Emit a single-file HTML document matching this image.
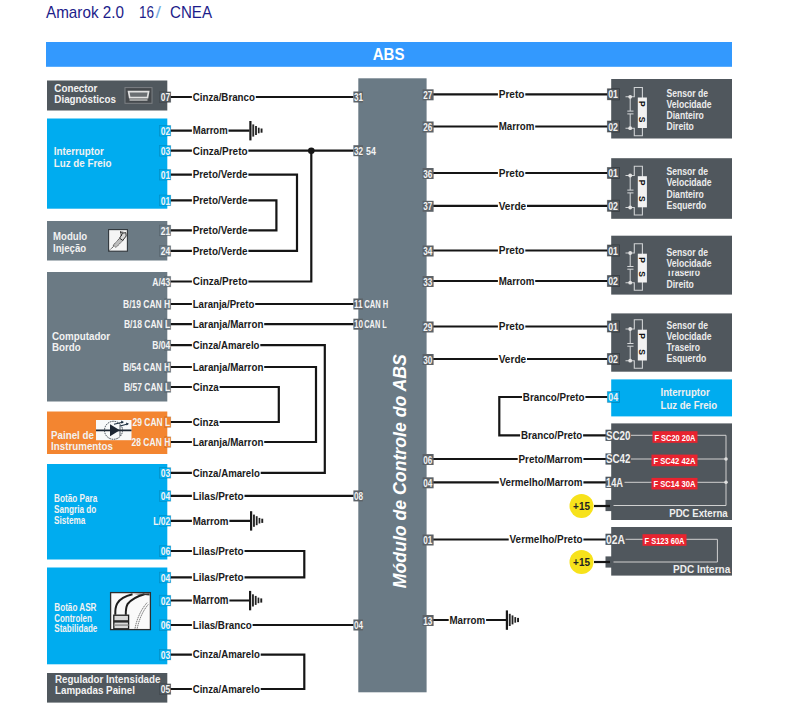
<!DOCTYPE html>
<html><head><meta charset="utf-8"><style>
html,body{margin:0;padding:0;background:#ffffff;}
body{width:808px;height:711px;overflow:hidden;}
svg{display:block;font-family:"Liberation Sans", sans-serif;}
</style></head><body>
<svg width="808" height="711" viewBox="0 0 808 711">
<text transform="translate(46.00,17.80) scale(0.9535,1)" font-size="16" font-weight="normal" fill="#1c1c8a" >Amarok 2.0</text>
<text transform="translate(139.00,17.80) scale(0.8429,1)" font-size="16" font-weight="normal" fill="#1c1c8a" >16</text>
<text transform="translate(155.50,17.80) scale(1.2373,1)" font-size="16" font-weight="normal" fill="#79aee0" >/</text>
<text transform="translate(170.00,17.80) scale(0.9448,1)" font-size="16" font-weight="normal" fill="#1c1c8a" >CNEA</text>
<rect x="46.00" y="42.00" width="686.00" height="24.80" fill="#3399fe" />
<text transform="translate(372.70,59.80) scale(0.9240,1)" font-size="16.3" font-weight="bold" fill="#ffffff" >ABS</text>
<rect x="358.30" y="78.30" width="68.30" height="614.00" fill="#6a7a85" />
<text transform="translate(405.6,588.2) rotate(-90)" font-size="19" font-weight="bold" font-style="italic" fill="#ffffff" textLength="234" lengthAdjust="spacingAndGlyphs">Módulo de Controle do ABS</text>
<rect x="47.00" y="80.50" width="120.30" height="30.00" fill="#50585e" />
<rect x="47.00" y="118.50" width="120.30" height="90.20" fill="#00acef" />
<rect x="47.00" y="221.00" width="120.30" height="39.50" fill="#6b7a84" />
<rect x="47.00" y="272.00" width="120.30" height="129.50" fill="#6b7a84" />
<rect x="47.00" y="411.50" width="120.30" height="42.50" fill="#f38530" />
<rect x="47.00" y="464.00" width="120.30" height="95.50" fill="#00acef" />
<rect x="47.00" y="567.50" width="120.30" height="96.80" fill="#00acef" />
<rect x="47.00" y="673.00" width="120.30" height="29.60" fill="#50585e" />
<text transform="translate(54.30,92.00) scale(0.8950,1)" font-size="11" font-weight="bold" fill="#f2f2f2" >Conector</text>
<text transform="translate(54.30,103.40) scale(0.8950,1)" font-size="11" font-weight="bold" fill="#f2f2f2" >Diagnósticos</text>
<text transform="translate(53.80,155.20) scale(0.8900,1)" font-size="11" font-weight="bold" fill="#f2f2f2" >Interruptor</text>
<text transform="translate(53.80,166.80) scale(0.8900,1)" font-size="11" font-weight="bold" fill="#f2f2f2" >Luz de Freio</text>
<text transform="translate(53.00,240.00) scale(0.8750,1)" font-size="11" font-weight="bold" fill="#f2f2f2" >Modulo</text>
<text transform="translate(53.00,252.30) scale(0.8750,1)" font-size="11" font-weight="bold" fill="#f2f2f2" >Injeção</text>
<text transform="translate(52.00,339.50) scale(0.8900,1)" font-size="11" font-weight="bold" fill="#f2f2f2" >Computador</text>
<text transform="translate(52.00,351.30) scale(0.8900,1)" font-size="11" font-weight="bold" fill="#f2f2f2" >Bordo</text>
<text transform="translate(51.00,439.30) scale(0.8900,1)" font-size="11" font-weight="bold" fill="#f2f2f2" >Painel de</text>
<text transform="translate(51.00,450.30) scale(0.8900,1)" font-size="11" font-weight="bold" fill="#f2f2f2" >Instrumentos</text>
<text transform="translate(54.00,502.00) scale(0.8200,1)" font-size="10" font-weight="bold" fill="#f2f2f2" >Botão Para</text>
<text transform="translate(54.00,512.90) scale(0.8200,1)" font-size="10" font-weight="bold" fill="#f2f2f2" >Sangria do</text>
<text transform="translate(54.00,523.80) scale(0.8200,1)" font-size="10" font-weight="bold" fill="#f2f2f2" >Sistema</text>
<text transform="translate(54.30,611.00) scale(0.8146,1)" font-size="10" font-weight="bold" fill="#f2f2f2" >Botão  ASR</text>
<text transform="translate(54.30,621.70) scale(0.7943,1)" font-size="10" font-weight="bold" fill="#f2f2f2" >Controlen</text>
<text transform="translate(54.30,632.40) scale(0.8061,1)" font-size="10" font-weight="bold" fill="#f2f2f2" >Stabilidade</text>
<text transform="translate(55.00,683.00) scale(0.8900,1)" font-size="11" font-weight="bold" fill="#f2f2f2" >Regulador Intensidade</text>
<text transform="translate(55.00,694.00) scale(0.8900,1)" font-size="11" font-weight="bold" fill="#f2f2f2" >Lampadas Painel</text>
<path d="M170.50 97.00 L353.50 97.00" fill="none" stroke="#151515" stroke-width="2.2" stroke-linejoin="miter" stroke-linecap="butt"/>
<path d="M170.50 130.60 L249.50 130.60" fill="none" stroke="#151515" stroke-width="2.2" stroke-linejoin="miter" stroke-linecap="butt"/>
<path d="M170.50 150.70 L353.50 150.70" fill="none" stroke="#151515" stroke-width="2.2" stroke-linejoin="miter" stroke-linecap="butt"/>
<path d="M170.50 174.60 L297.00 174.60 L297.00 250.90 L170.50 250.90" fill="none" stroke="#151515" stroke-width="2.2" stroke-linejoin="miter" stroke-linecap="butt"/>
<path d="M170.50 200.30 L276.40 200.30 L276.40 230.30 L170.50 230.30" fill="none" stroke="#151515" stroke-width="2.2" stroke-linejoin="miter" stroke-linecap="butt"/>
<path d="M170.50 281.50 L311.30 281.50 L311.30 150.70" fill="none" stroke="#151515" stroke-width="2.2" stroke-linejoin="miter" stroke-linecap="butt"/>
<circle cx="311.3" cy="150.7" r="3.3" fill="#161616"/>
<path d="M170.50 304.00 L353.50 304.00" fill="none" stroke="#151515" stroke-width="2.2" stroke-linejoin="miter" stroke-linecap="butt"/>
<path d="M170.50 324.20 L353.50 324.20" fill="none" stroke="#151515" stroke-width="2.2" stroke-linejoin="miter" stroke-linecap="butt"/>
<path d="M170.50 345.20 L324.80 345.20 L324.80 472.80 L170.50 472.80" fill="none" stroke="#151515" stroke-width="2.2" stroke-linejoin="miter" stroke-linecap="butt"/>
<path d="M170.50 367.00 L316.00 367.00 L316.00 442.00 L170.50 442.00" fill="none" stroke="#151515" stroke-width="2.2" stroke-linejoin="miter" stroke-linecap="butt"/>
<path d="M170.50 387.00 L278.80 387.00 L278.80 422.00 L170.50 422.00" fill="none" stroke="#151515" stroke-width="2.2" stroke-linejoin="miter" stroke-linecap="butt"/>
<path d="M170.50 495.90 L353.50 495.90" fill="none" stroke="#151515" stroke-width="2.2" stroke-linejoin="miter" stroke-linecap="butt"/>
<path d="M170.50 520.80 L250.00 520.80" fill="none" stroke="#151515" stroke-width="2.2" stroke-linejoin="miter" stroke-linecap="butt"/>
<path d="M170.50 551.00 L304.30 551.00 L304.30 577.40 L170.50 577.40" fill="none" stroke="#151515" stroke-width="2.2" stroke-linejoin="miter" stroke-linecap="butt"/>
<path d="M170.50 600.50 L249.00 600.50" fill="none" stroke="#151515" stroke-width="2.2" stroke-linejoin="miter" stroke-linecap="butt"/>
<path d="M170.50 625.00 L353.50 625.00" fill="none" stroke="#151515" stroke-width="2.2" stroke-linejoin="miter" stroke-linecap="butt"/>
<path d="M170.50 654.60 L304.30 654.60 L304.30 689.00 L170.50 689.00" fill="none" stroke="#151515" stroke-width="2.2" stroke-linejoin="miter" stroke-linecap="butt"/>
<rect x="249.30" y="121.00" width="2.20" height="19.40" fill="#1a1a1a" />
<rect x="252.30" y="124.40" width="1.90" height="12.20" fill="#2a2a2a" />
<rect x="255.10" y="126.00" width="1.80" height="9.00" fill="#222" />
<rect x="257.90" y="127.70" width="1.70" height="5.60" fill="#222" />
<rect x="260.60" y="128.50" width="1.90" height="4.20" fill="#1e1e1e" />
<rect x="250.00" y="511.20" width="2.20" height="19.40" fill="#1a1a1a" />
<rect x="253.00" y="514.60" width="1.90" height="12.20" fill="#2a2a2a" />
<rect x="255.80" y="516.20" width="1.80" height="9.00" fill="#222" />
<rect x="258.60" y="517.90" width="1.70" height="5.60" fill="#222" />
<rect x="261.30" y="518.70" width="1.90" height="4.20" fill="#1e1e1e" />
<rect x="249.00" y="590.90" width="2.20" height="19.40" fill="#1a1a1a" />
<rect x="252.00" y="594.30" width="1.90" height="12.20" fill="#2a2a2a" />
<rect x="254.80" y="595.90" width="1.80" height="9.00" fill="#222" />
<rect x="257.60" y="597.60" width="1.70" height="5.60" fill="#222" />
<rect x="260.30" y="598.40" width="1.90" height="4.20" fill="#1e1e1e" />
<rect x="191.90" y="92.00" width="63.90" height="10.00" fill="#ffffff" />
<text transform="translate(192.70,100.80) scale(0.8863,1)" font-size="11" font-weight="bold" fill="#1a1a1a" >Cinza/Branco</text>
<rect x="191.90" y="125.60" width="36.60" height="10.00" fill="#ffffff" />
<text transform="translate(192.70,134.40) scale(0.8676,1)" font-size="11" font-weight="bold" fill="#1a1a1a" >Marrom</text>
<rect x="191.90" y="145.70" width="56.50" height="10.00" fill="#ffffff" />
<text transform="translate(192.70,154.50) scale(0.9073,1)" font-size="11" font-weight="bold" fill="#1a1a1a" >Cinza/Preto</text>
<rect x="191.90" y="169.60" width="56.50" height="10.00" fill="#ffffff" />
<text transform="translate(192.70,178.40) scale(0.9878,1)" font-size="10" font-weight="bold" fill="#1a1a1a" >Preto/Verde</text>
<rect x="191.90" y="195.30" width="56.50" height="10.00" fill="#ffffff" />
<text transform="translate(192.70,204.10) scale(0.8980,1)" font-size="11" font-weight="bold" fill="#1a1a1a" >Preto/Verde</text>
<rect x="191.90" y="225.30" width="56.50" height="10.00" fill="#ffffff" />
<text transform="translate(192.70,234.10) scale(0.8980,1)" font-size="11" font-weight="bold" fill="#1a1a1a" >Preto/Verde</text>
<rect x="191.90" y="245.90" width="56.50" height="10.00" fill="#ffffff" />
<text transform="translate(192.70,254.70) scale(0.8980,1)" font-size="11" font-weight="bold" fill="#1a1a1a" >Preto/Verde</text>
<rect x="191.90" y="276.50" width="56.50" height="10.00" fill="#ffffff" />
<text transform="translate(192.70,285.30) scale(0.9073,1)" font-size="11" font-weight="bold" fill="#1a1a1a" >Cinza/Preto</text>
<rect x="191.90" y="299.00" width="63.30" height="10.00" fill="#ffffff" />
<text transform="translate(192.70,307.80) scale(0.8777,1)" font-size="11" font-weight="bold" fill="#1a1a1a" >Laranja/Preto</text>
<rect x="191.90" y="319.20" width="72.30" height="10.00" fill="#ffffff" />
<text transform="translate(192.70,328.00) scale(0.8897,1)" font-size="11" font-weight="bold" fill="#1a1a1a" >Laranja/Marron</text>
<rect x="191.90" y="340.20" width="68.40" height="10.00" fill="#ffffff" />
<text transform="translate(192.70,349.00) scale(0.8743,1)" font-size="11" font-weight="bold" fill="#1a1a1a" >Cinza/Amarelo</text>
<rect x="191.90" y="362.00" width="72.30" height="10.00" fill="#ffffff" />
<text transform="translate(192.70,370.80) scale(0.8897,1)" font-size="11" font-weight="bold" fill="#1a1a1a" >Laranja/Marron</text>
<rect x="191.90" y="382.00" width="27.70" height="10.00" fill="#ffffff" />
<text transform="translate(192.70,390.80) scale(0.8897,1)" font-size="11" font-weight="bold" fill="#1a1a1a" >Cinza</text>
<rect x="191.90" y="417.00" width="27.70" height="10.00" fill="#ffffff" />
<text transform="translate(192.70,425.80) scale(0.8897,1)" font-size="11" font-weight="bold" fill="#1a1a1a" >Cinza</text>
<rect x="191.90" y="437.00" width="72.30" height="10.00" fill="#ffffff" />
<text transform="translate(192.70,445.80) scale(0.8897,1)" font-size="11" font-weight="bold" fill="#1a1a1a" >Laranja/Marron</text>
<rect x="191.90" y="467.80" width="68.80" height="10.00" fill="#ffffff" />
<text transform="translate(192.70,476.60) scale(0.8795,1)" font-size="11" font-weight="bold" fill="#1a1a1a" >Cinza/Amarelo</text>
<rect x="191.90" y="490.90" width="52.60" height="10.00" fill="#ffffff" />
<text transform="translate(192.70,499.70) scale(0.9069,1)" font-size="11" font-weight="bold" fill="#1a1a1a" >Lilas/Preto</text>
<rect x="191.90" y="515.80" width="37.50" height="10.00" fill="#ffffff" />
<text transform="translate(192.70,524.60) scale(0.9789,1)" font-size="10" font-weight="bold" fill="#1a1a1a" >Marrom</text>
<rect x="191.90" y="546.00" width="52.60" height="10.00" fill="#ffffff" />
<text transform="translate(192.70,554.80) scale(0.9069,1)" font-size="11" font-weight="bold" fill="#1a1a1a" >Lilas/Preto</text>
<rect x="191.90" y="572.40" width="52.60" height="10.00" fill="#ffffff" />
<text transform="translate(192.70,581.20) scale(0.9069,1)" font-size="11" font-weight="bold" fill="#1a1a1a" >Lilas/Preto</text>
<rect x="191.90" y="595.50" width="37.50" height="10.00" fill="#ffffff" />
<text transform="translate(192.70,604.30) scale(0.8157,1)" font-size="12" font-weight="bold" fill="#1a1a1a" >Marrom</text>
<rect x="191.90" y="620.00" width="60.70" height="10.00" fill="#ffffff" />
<text transform="translate(192.70,628.80) scale(0.8952,1)" font-size="11" font-weight="bold" fill="#1a1a1a" >Lilas/Branco</text>
<rect x="191.90" y="649.60" width="68.80" height="10.00" fill="#ffffff" />
<text transform="translate(192.70,658.40) scale(0.8795,1)" font-size="11" font-weight="bold" fill="#1a1a1a" >Cinza/Amarelo</text>
<rect x="191.90" y="684.00" width="68.80" height="10.00" fill="#ffffff" />
<text transform="translate(192.70,692.80) scale(0.8795,1)" font-size="11" font-weight="bold" fill="#1a1a1a" >Cinza/Amarelo</text>
<rect x="159.50" y="91.80" width="11.30" height="10.60" fill="#50585e" stroke="rgba(0,0,0,0.15)" stroke-width="0.8"/>
<text transform="translate(160.84,101.20) scale(0.7400,1)" font-size="11.5" font-weight="bold" fill="#f4f4f4" >07</text>
<rect x="159.50" y="125.40" width="11.30" height="10.60" fill="#00acef" stroke="rgba(0,0,0,0.15)" stroke-width="0.8"/>
<text transform="translate(160.84,134.80) scale(0.7400,1)" font-size="11.5" font-weight="bold" fill="#f4f4f4" >02</text>
<rect x="159.50" y="145.50" width="11.30" height="10.60" fill="#00acef" stroke="rgba(0,0,0,0.15)" stroke-width="0.8"/>
<text transform="translate(160.84,154.90) scale(0.7400,1)" font-size="11.5" font-weight="bold" fill="#f4f4f4" >03</text>
<rect x="159.50" y="169.40" width="11.30" height="10.60" fill="#00acef" stroke="rgba(0,0,0,0.15)" stroke-width="0.8"/>
<text transform="translate(160.84,178.80) scale(0.7400,1)" font-size="11.5" font-weight="bold" fill="#f4f4f4" >01</text>
<rect x="159.50" y="195.10" width="11.30" height="10.60" fill="#00acef" stroke="rgba(0,0,0,0.15)" stroke-width="0.8"/>
<text transform="translate(160.84,204.50) scale(0.7400,1)" font-size="11.5" font-weight="bold" fill="#f4f4f4" >01</text>
<rect x="159.50" y="225.10" width="11.30" height="10.60" fill="#6b7a84" stroke="rgba(0,0,0,0.15)" stroke-width="0.8"/>
<text transform="translate(160.84,234.50) scale(0.7400,1)" font-size="11.5" font-weight="bold" fill="#f4f4f4" >21</text>
<rect x="159.50" y="245.70" width="11.30" height="10.60" fill="#6b7a84" stroke="rgba(0,0,0,0.15)" stroke-width="0.8"/>
<text transform="translate(160.84,255.10) scale(0.7400,1)" font-size="11.5" font-weight="bold" fill="#f4f4f4" >24</text>
<rect x="164.80" y="276.30" width="6.00" height="10.60" fill="#6b7a84" stroke="rgba(0,0,0,0.15)" stroke-width="0.8"/>
<text transform="translate(152.33,285.70) scale(0.7400,1)" font-size="11.5" font-weight="bold" fill="#f4f4f4" >A/43</text>
<rect x="164.80" y="298.80" width="6.00" height="10.60" fill="#6b7a84" stroke="rgba(0,0,0,0.15)" stroke-width="0.8"/>
<text transform="translate(123.01,308.20) scale(0.7400,1)" font-size="11.5" font-weight="bold" fill="#f4f4f4" >B/19 CAN H</text>
<rect x="164.80" y="319.00" width="6.00" height="10.60" fill="#6b7a84" stroke="rgba(0,0,0,0.15)" stroke-width="0.8"/>
<text transform="translate(123.96,328.40) scale(0.7400,1)" font-size="11.5" font-weight="bold" fill="#f4f4f4" >B/18 CAN L</text>
<rect x="164.80" y="340.00" width="6.00" height="10.60" fill="#6b7a84" stroke="rgba(0,0,0,0.15)" stroke-width="0.8"/>
<text transform="translate(152.33,349.40) scale(0.7400,1)" font-size="11.5" font-weight="bold" fill="#f4f4f4" >B/04</text>
<rect x="164.80" y="361.80" width="6.00" height="10.60" fill="#6b7a84" stroke="rgba(0,0,0,0.15)" stroke-width="0.8"/>
<text transform="translate(123.01,371.20) scale(0.7400,1)" font-size="11.5" font-weight="bold" fill="#f4f4f4" >B/54 CAN H</text>
<rect x="164.80" y="381.80" width="6.00" height="10.60" fill="#6b7a84" stroke="rgba(0,0,0,0.15)" stroke-width="0.8"/>
<text transform="translate(123.96,391.20) scale(0.7400,1)" font-size="11.5" font-weight="bold" fill="#f4f4f4" >B/57 CAN L</text>
<rect x="164.80" y="416.80" width="6.00" height="10.60" fill="#f38530" stroke="rgba(0,0,0,0.15)" stroke-width="0.8"/>
<text transform="translate(132.47,426.20) scale(0.7400,1)" font-size="11.5" font-weight="bold" fill="#f4f4f4" >29 CAN L</text>
<rect x="164.80" y="436.80" width="6.00" height="10.60" fill="#f38530" stroke="rgba(0,0,0,0.15)" stroke-width="0.8"/>
<text transform="translate(131.52,446.20) scale(0.7400,1)" font-size="11.5" font-weight="bold" fill="#f4f4f4" >28 CAN H</text>
<rect x="159.50" y="467.60" width="11.30" height="10.60" fill="#00acef" stroke="rgba(0,0,0,0.15)" stroke-width="0.8"/>
<text transform="translate(160.84,477.00) scale(0.7400,1)" font-size="11.5" font-weight="bold" fill="#f4f4f4" >03</text>
<rect x="159.50" y="490.70" width="11.30" height="10.60" fill="#00acef" stroke="rgba(0,0,0,0.15)" stroke-width="0.8"/>
<text transform="translate(160.84,500.10) scale(0.7400,1)" font-size="11.5" font-weight="bold" fill="#f4f4f4" >04</text>
<rect x="159.50" y="515.60" width="11.30" height="10.60" fill="#00acef" stroke="rgba(0,0,0,0.15)" stroke-width="0.8"/>
<text transform="translate(153.27,525.00) scale(0.7400,1)" font-size="11.5" font-weight="bold" fill="#f4f4f4" >L/02</text>
<rect x="159.50" y="545.80" width="11.30" height="10.60" fill="#00acef" stroke="rgba(0,0,0,0.15)" stroke-width="0.8"/>
<text transform="translate(160.84,555.20) scale(0.7400,1)" font-size="11.5" font-weight="bold" fill="#f4f4f4" >06</text>
<rect x="159.50" y="572.20" width="11.30" height="10.60" fill="#00acef" stroke="rgba(0,0,0,0.15)" stroke-width="0.8"/>
<text transform="translate(160.84,581.60) scale(0.7400,1)" font-size="11.5" font-weight="bold" fill="#f4f4f4" >04</text>
<rect x="159.50" y="595.30" width="11.30" height="10.60" fill="#00acef" stroke="rgba(0,0,0,0.15)" stroke-width="0.8"/>
<text transform="translate(160.84,604.70) scale(0.7400,1)" font-size="11.5" font-weight="bold" fill="#f4f4f4" >02</text>
<rect x="159.50" y="619.80" width="11.30" height="10.60" fill="#00acef" stroke="rgba(0,0,0,0.15)" stroke-width="0.8"/>
<text transform="translate(160.84,629.20) scale(0.7400,1)" font-size="11.5" font-weight="bold" fill="#f4f4f4" >06</text>
<rect x="159.50" y="649.40" width="11.30" height="10.60" fill="#00acef" stroke="rgba(0,0,0,0.15)" stroke-width="0.8"/>
<text transform="translate(160.84,658.80) scale(0.7400,1)" font-size="11.5" font-weight="bold" fill="#f4f4f4" >03</text>
<rect x="159.50" y="683.80" width="11.30" height="10.60" fill="#50585e" stroke="rgba(0,0,0,0.15)" stroke-width="0.8"/>
<text transform="translate(160.84,693.20) scale(0.7400,1)" font-size="11.5" font-weight="bold" fill="#f4f4f4" >05</text>
<rect x="353.40" y="91.50" width="9.50" height="11.00" fill="#5d6368" />
<text transform="translate(353.90,101.00) scale(0.7400,1)" font-size="11" font-weight="bold" fill="#f4f4f4" >31</text>
<rect x="353.40" y="145.20" width="9.50" height="11.00" fill="#5d6368" />
<text transform="translate(353.90,154.70) scale(0.7400,1)" font-size="11" font-weight="bold" fill="#f4f4f4" >32</text>
<rect x="353.40" y="298.50" width="9.50" height="11.00" fill="#5d6368" />
<text transform="translate(353.90,308.00) scale(0.7400,1)" font-size="11" font-weight="bold" fill="#f4f4f4" >11</text>
<rect x="353.40" y="318.70" width="9.50" height="11.00" fill="#5d6368" />
<text transform="translate(353.90,328.20) scale(0.7400,1)" font-size="11" font-weight="bold" fill="#f4f4f4" >10</text>
<rect x="353.40" y="490.40" width="9.50" height="11.00" fill="#5d6368" />
<text transform="translate(353.90,499.90) scale(0.7400,1)" font-size="11" font-weight="bold" fill="#f4f4f4" >08</text>
<rect x="353.40" y="619.50" width="9.50" height="11.00" fill="#5d6368" />
<text transform="translate(353.90,629.00) scale(0.7400,1)" font-size="11" font-weight="bold" fill="#f4f4f4" >04</text>
<text transform="translate(366.00,154.70) scale(0.8000,1)" font-size="11" font-weight="bold" fill="#f4f4f4" >54</text>
<text transform="translate(364.30,307.80) scale(0.7579,1)" font-size="10" font-weight="bold" fill="#f4f4f4" >CAN H</text>
<text transform="translate(364.30,328.00) scale(0.7365,1)" font-size="10" font-weight="bold" fill="#f4f4f4" >CAN L</text>
<path d="M432.80 94.30 L607.30 94.30" fill="none" stroke="#151515" stroke-width="2.2" stroke-linejoin="miter" stroke-linecap="butt"/>
<path d="M432.80 126.50 L607.30 126.50" fill="none" stroke="#151515" stroke-width="2.2" stroke-linejoin="miter" stroke-linecap="butt"/>
<path d="M432.80 173.00 L607.30 173.00" fill="none" stroke="#151515" stroke-width="2.2" stroke-linejoin="miter" stroke-linecap="butt"/>
<path d="M432.80 205.80 L607.30 205.80" fill="none" stroke="#151515" stroke-width="2.2" stroke-linejoin="miter" stroke-linecap="butt"/>
<path d="M432.80 250.50 L607.30 250.50" fill="none" stroke="#151515" stroke-width="2.2" stroke-linejoin="miter" stroke-linecap="butt"/>
<path d="M432.80 281.00 L607.30 281.00" fill="none" stroke="#151515" stroke-width="2.2" stroke-linejoin="miter" stroke-linecap="butt"/>
<path d="M432.80 326.50 L607.30 326.50" fill="none" stroke="#151515" stroke-width="2.2" stroke-linejoin="miter" stroke-linecap="butt"/>
<path d="M432.80 359.00 L607.30 359.00" fill="none" stroke="#151515" stroke-width="2.2" stroke-linejoin="miter" stroke-linecap="butt"/>
<path d="M432.80 459.00 L606.00 459.00" fill="none" stroke="#151515" stroke-width="2.2" stroke-linejoin="miter" stroke-linecap="butt"/>
<path d="M432.80 482.30 L606.00 482.30" fill="none" stroke="#151515" stroke-width="2.2" stroke-linejoin="miter" stroke-linecap="butt"/>
<path d="M432.80 539.50 L606.00 539.50" fill="none" stroke="#151515" stroke-width="2.2" stroke-linejoin="miter" stroke-linecap="butt"/>
<path d="M607.30 397.00 L499.30 397.00 L499.30 435.30 L606.00 435.30" fill="none" stroke="#151515" stroke-width="2.2" stroke-linejoin="miter" stroke-linecap="butt"/>
<path d="M432.80 620.00 L506.00 620.00" fill="none" stroke="#151515" stroke-width="2.2" stroke-linejoin="miter" stroke-linecap="butt"/>
<rect x="505.80" y="610.40" width="2.20" height="19.40" fill="#1a1a1a" />
<rect x="508.80" y="613.80" width="1.90" height="12.20" fill="#2a2a2a" />
<rect x="511.60" y="615.40" width="1.80" height="9.00" fill="#222" />
<rect x="514.40" y="617.10" width="1.70" height="5.60" fill="#222" />
<rect x="517.10" y="617.90" width="1.90" height="4.20" fill="#1e1e1e" />
<rect x="497.90" y="89.30" width="27.40" height="10.00" fill="#ffffff" />
<text transform="translate(498.70,98.10) scale(0.9176,1)" font-size="11" font-weight="bold" fill="#1a1a1a" >Preto</text>
<rect x="497.90" y="121.50" width="37.30" height="10.00" fill="#ffffff" />
<text transform="translate(498.70,130.30) scale(0.8849,1)" font-size="11" font-weight="bold" fill="#1a1a1a" >Marrom</text>
<rect x="497.90" y="168.00" width="27.40" height="10.00" fill="#ffffff" />
<text transform="translate(498.70,176.80) scale(0.9176,1)" font-size="11" font-weight="bold" fill="#1a1a1a" >Preto</text>
<rect x="497.90" y="200.80" width="29.10" height="10.00" fill="#ffffff" />
<text transform="translate(498.70,209.60) scale(0.9177,1)" font-size="11" font-weight="bold" fill="#1a1a1a" >Verde</text>
<rect x="497.90" y="245.50" width="27.40" height="10.00" fill="#ffffff" />
<text transform="translate(498.70,254.30) scale(0.9176,1)" font-size="11" font-weight="bold" fill="#1a1a1a" >Preto</text>
<rect x="497.90" y="276.00" width="37.30" height="10.00" fill="#ffffff" />
<text transform="translate(498.70,284.80) scale(0.8849,1)" font-size="11" font-weight="bold" fill="#1a1a1a" >Marrom</text>
<rect x="497.90" y="321.50" width="27.40" height="10.00" fill="#ffffff" />
<text transform="translate(498.70,330.30) scale(0.9176,1)" font-size="11" font-weight="bold" fill="#1a1a1a" >Preto</text>
<rect x="497.90" y="354.00" width="29.10" height="10.00" fill="#ffffff" />
<text transform="translate(498.70,362.80) scale(0.9177,1)" font-size="11" font-weight="bold" fill="#1a1a1a" >Verde</text>
<rect x="522.00" y="392.00" width="63.40" height="10.00" fill="#ffffff" />
<text transform="translate(522.80,400.80) scale(0.8947,1)" font-size="11" font-weight="bold" fill="#1a1a1a" >Branco/Preto</text>
<rect x="520.10" y="430.30" width="63.00" height="10.00" fill="#ffffff" />
<text transform="translate(520.90,439.10) scale(0.8890,1)" font-size="11" font-weight="bold" fill="#1a1a1a" >Branco/Preto</text>
<rect x="517.70" y="454.00" width="65.70" height="10.00" fill="#ffffff" />
<text transform="translate(518.50,462.80) scale(0.8963,1)" font-size="11" font-weight="bold" fill="#1a1a1a" >Preto/Marrom</text>
<rect x="498.80" y="477.30" width="84.60" height="10.00" fill="#ffffff" />
<text transform="translate(499.60,486.10) scale(0.8933,1)" font-size="11" font-weight="bold" fill="#1a1a1a" >Vermelho/Marrom</text>
<rect x="508.70" y="534.50" width="74.70" height="10.00" fill="#ffffff" />
<text transform="translate(509.50,543.30) scale(0.9059,1)" font-size="11" font-weight="bold" fill="#1a1a1a" >Vermelho/Preto</text>
<rect x="448.70" y="615.50" width="37.40" height="10.00" fill="#ffffff" />
<text transform="translate(449.50,624.30) scale(0.8874,1)" font-size="11" font-weight="bold" fill="#1a1a1a" >Marrom</text>
<rect x="422.60" y="89.30" width="11.00" height="11.00" fill="#5d6368" />
<text transform="translate(423.20,98.80) scale(0.7400,1)" font-size="11" font-weight="bold" fill="#f4f4f4" >27</text>
<rect x="422.60" y="121.50" width="11.00" height="11.00" fill="#5d6368" />
<text transform="translate(423.20,131.00) scale(0.7400,1)" font-size="11" font-weight="bold" fill="#f4f4f4" >26</text>
<rect x="422.60" y="168.00" width="11.00" height="11.00" fill="#5d6368" />
<text transform="translate(423.20,177.50) scale(0.7400,1)" font-size="11" font-weight="bold" fill="#f4f4f4" >36</text>
<rect x="422.60" y="200.80" width="11.00" height="11.00" fill="#5d6368" />
<text transform="translate(423.20,210.30) scale(0.7400,1)" font-size="11" font-weight="bold" fill="#f4f4f4" >37</text>
<rect x="422.60" y="245.50" width="11.00" height="11.00" fill="#5d6368" />
<text transform="translate(423.20,255.00) scale(0.7400,1)" font-size="11" font-weight="bold" fill="#f4f4f4" >34</text>
<rect x="422.60" y="276.00" width="11.00" height="11.00" fill="#5d6368" />
<text transform="translate(423.20,285.50) scale(0.7400,1)" font-size="11" font-weight="bold" fill="#f4f4f4" >33</text>
<rect x="422.60" y="321.50" width="11.00" height="11.00" fill="#5d6368" />
<text transform="translate(423.20,331.00) scale(0.7400,1)" font-size="11" font-weight="bold" fill="#f4f4f4" >29</text>
<rect x="422.60" y="354.00" width="11.00" height="11.00" fill="#5d6368" />
<text transform="translate(423.20,363.50) scale(0.7400,1)" font-size="11" font-weight="bold" fill="#f4f4f4" >30</text>
<rect x="422.60" y="454.00" width="11.00" height="11.00" fill="#5d6368" />
<text transform="translate(423.20,463.50) scale(0.7400,1)" font-size="11" font-weight="bold" fill="#f4f4f4" >06</text>
<rect x="422.60" y="477.30" width="11.00" height="11.00" fill="#5d6368" />
<text transform="translate(423.20,486.80) scale(0.7400,1)" font-size="11" font-weight="bold" fill="#f4f4f4" >04</text>
<rect x="422.60" y="534.50" width="11.00" height="11.00" fill="#5d6368" />
<text transform="translate(423.20,544.00) scale(0.7400,1)" font-size="11" font-weight="bold" fill="#f4f4f4" >01</text>
<rect x="422.60" y="615.00" width="11.00" height="11.00" fill="#5d6368" />
<text transform="translate(423.20,624.50) scale(0.7400,1)" font-size="11" font-weight="bold" fill="#f4f4f4" >13</text>
<rect x="611.20" y="79.00" width="120.80" height="59.50" fill="#50575d" />
<rect x="607.30" y="88.70" width="12.20" height="11.20" fill="#50575d" stroke="rgba(0,0,0,0.3)" stroke-width="0.8"/>
<text transform="translate(608.20,98.30) scale(0.8000,1)" font-size="11" font-weight="bold" fill="#f0f0f0" >01</text>
<rect x="607.30" y="120.90" width="12.20" height="11.20" fill="#50575d" stroke="rgba(0,0,0,0.3)" stroke-width="0.8"/>
<text transform="translate(608.20,130.50) scale(0.8000,1)" font-size="11" font-weight="bold" fill="#f0f0f0" >02</text>
<path d="M625.5 96.8 H634.3 V87.5 H642.4 V135.7 H634.3 V128.2 H625.5" fill="none" stroke="#cfd2d4" stroke-width="1.1"/>
<path d="M630.2 96.8 V111.1 M630.2 113.9 V128.2 M627.3 111.1 H633.5 M627.3 113.9 H633.5" fill="none" stroke="#d6d8da" stroke-width="1"/>
<circle cx="630.2" cy="96.8" r="1.9" fill="#e4e4e4"/><circle cx="630.2" cy="128.2" r="1.9" fill="#e4e4e4"/>
<rect x="637.80" y="97.50" width="9.10" height="30.50" fill="#f2f2f2" />
<text transform="translate(638.6,101.1) rotate(90)" font-size="8.5" font-weight="bold" fill="#111">P</text>
<text transform="translate(638.6,116.7) rotate(90)" font-size="8.5" font-weight="bold" fill="#111">S</text>
<text transform="translate(666.50,96.90) scale(0.8200,1)" font-size="10.5" font-weight="bold" fill="#ececec" >Sensor de</text>
<text transform="translate(666.50,108.10) scale(0.8200,1)" font-size="10.5" font-weight="bold" fill="#ececec" >Velocidade</text>
<text transform="translate(666.50,119.30) scale(0.8200,1)" font-size="10.5" font-weight="bold" fill="#ececec" >Dianteiro</text>
<text transform="translate(666.50,130.40) scale(0.8200,1)" font-size="10.5" font-weight="bold" fill="#ececec" >Direito</text>
<rect x="611.20" y="158.20" width="120.80" height="60.60" fill="#50575d" />
<rect x="607.30" y="167.40" width="12.20" height="11.20" fill="#50575d" stroke="rgba(0,0,0,0.3)" stroke-width="0.8"/>
<text transform="translate(608.20,177.00) scale(0.8000,1)" font-size="11" font-weight="bold" fill="#f0f0f0" >01</text>
<rect x="607.30" y="200.20" width="12.20" height="11.20" fill="#50575d" stroke="rgba(0,0,0,0.3)" stroke-width="0.8"/>
<text transform="translate(608.20,209.80) scale(0.8000,1)" font-size="11" font-weight="bold" fill="#f0f0f0" >02</text>
<path d="M625.5 175.5 H634.3 V166.2 H642.4 V215.0 H634.3 V207.5 H625.5" fill="none" stroke="#cfd2d4" stroke-width="1.1"/>
<path d="M630.2 175.5 V190.1 M630.2 192.9 V207.5 M627.3 190.1 H633.5 M627.3 192.9 H633.5" fill="none" stroke="#d6d8da" stroke-width="1"/>
<circle cx="630.2" cy="175.5" r="1.9" fill="#e4e4e4"/><circle cx="630.2" cy="207.5" r="1.9" fill="#e4e4e4"/>
<rect x="637.80" y="176.20" width="9.10" height="31.10" fill="#f2f2f2" />
<text transform="translate(638.6,179.8) rotate(90)" font-size="8.5" font-weight="bold" fill="#111">P</text>
<text transform="translate(638.6,196.0) rotate(90)" font-size="8.5" font-weight="bold" fill="#111">S</text>
<text transform="translate(666.50,175.00) scale(0.8200,1)" font-size="10.5" font-weight="bold" fill="#ececec" >Sensor de</text>
<text transform="translate(666.50,186.40) scale(0.8200,1)" font-size="10.5" font-weight="bold" fill="#ececec" >Velocidade</text>
<text transform="translate(666.50,197.80) scale(0.8200,1)" font-size="10.5" font-weight="bold" fill="#ececec" >Dianteiro</text>
<text transform="translate(666.50,209.20) scale(0.8200,1)" font-size="10.5" font-weight="bold" fill="#ececec" >Esquerdo</text>
<rect x="611.20" y="235.70" width="120.80" height="58.90" fill="#50575d" />
<rect x="607.30" y="244.90" width="12.20" height="11.20" fill="#50575d" stroke="rgba(0,0,0,0.3)" stroke-width="0.8"/>
<text transform="translate(608.20,254.50) scale(0.8000,1)" font-size="11" font-weight="bold" fill="#f0f0f0" >01</text>
<rect x="607.30" y="275.40" width="12.20" height="11.20" fill="#50575d" stroke="rgba(0,0,0,0.3)" stroke-width="0.8"/>
<text transform="translate(608.20,285.00) scale(0.8000,1)" font-size="11" font-weight="bold" fill="#f0f0f0" >02</text>
<path d="M625.5 253.0 H634.3 V243.7 H642.4 V290.2 H634.3 V282.7 H625.5" fill="none" stroke="#cfd2d4" stroke-width="1.1"/>
<path d="M630.2 253.0 V266.5 M630.2 269.2 V282.7 M627.3 266.5 H633.5 M627.3 269.2 H633.5" fill="none" stroke="#d6d8da" stroke-width="1"/>
<circle cx="630.2" cy="253.0" r="1.9" fill="#e4e4e4"/><circle cx="630.2" cy="282.7" r="1.9" fill="#e4e4e4"/>
<rect x="637.80" y="253.70" width="9.10" height="28.80" fill="#f2f2f2" />
<text transform="translate(638.6,257.3) rotate(90)" font-size="8.5" font-weight="bold" fill="#111">P</text>
<text transform="translate(638.6,271.2) rotate(90)" font-size="8.5" font-weight="bold" fill="#111">S</text>
<text transform="translate(666.50,255.80) scale(0.8200,1)" font-size="10.5" font-weight="bold" fill="#ececec" >Sensor de</text>
<text transform="translate(666.50,266.70) scale(0.8200,1)" font-size="10.5" font-weight="bold" fill="#ececec" >Velocidade</text>
<text transform="translate(666.50,275.80) scale(0.8200,1)" font-size="10.5" font-weight="bold" fill="#ececec" >Traseiro</text>
<rect x="664.00" y="266.90" width="50.00" height="3.90" fill="#50575d" />
<text transform="translate(666.50,287.50) scale(0.8200,1)" font-size="10.5" font-weight="bold" fill="#ececec" >Direito</text>
<rect x="611.20" y="313.40" width="120.80" height="58.30" fill="#50575d" />
<rect x="607.30" y="320.90" width="12.20" height="11.20" fill="#50575d" stroke="rgba(0,0,0,0.3)" stroke-width="0.8"/>
<text transform="translate(608.20,330.50) scale(0.8000,1)" font-size="11" font-weight="bold" fill="#f0f0f0" >01</text>
<rect x="607.30" y="353.40" width="12.20" height="11.20" fill="#50575d" stroke="rgba(0,0,0,0.3)" stroke-width="0.8"/>
<text transform="translate(608.20,363.00) scale(0.8000,1)" font-size="11" font-weight="bold" fill="#f0f0f0" >02</text>
<path d="M625.5 329.0 H634.3 V319.7 H642.4 V368.2 H634.3 V360.7 H625.5" fill="none" stroke="#cfd2d4" stroke-width="1.1"/>
<path d="M630.2 329.0 V343.5 M630.2 346.2 V360.7 M627.3 343.5 H633.5 M627.3 346.2 H633.5" fill="none" stroke="#d6d8da" stroke-width="1"/>
<circle cx="630.2" cy="329.0" r="1.9" fill="#e4e4e4"/><circle cx="630.2" cy="360.7" r="1.9" fill="#e4e4e4"/>
<rect x="637.80" y="329.70" width="9.10" height="30.80" fill="#f2f2f2" />
<text transform="translate(638.6,333.3) rotate(90)" font-size="8.5" font-weight="bold" fill="#111">P</text>
<text transform="translate(638.6,349.2) rotate(90)" font-size="8.5" font-weight="bold" fill="#111">S</text>
<text transform="translate(666.50,328.80) scale(0.8200,1)" font-size="10.5" font-weight="bold" fill="#ececec" >Sensor de</text>
<text transform="translate(666.50,339.90) scale(0.8200,1)" font-size="10.5" font-weight="bold" fill="#ececec" >Velocidade</text>
<text transform="translate(666.50,351.00) scale(0.8200,1)" font-size="10.5" font-weight="bold" fill="#ececec" >Traseiro</text>
<text transform="translate(666.50,362.20) scale(0.8200,1)" font-size="10.5" font-weight="bold" fill="#ececec" >Esquerdo</text>
<rect x="611.20" y="379.40" width="120.80" height="37.00" fill="#00acef" />
<text transform="translate(660.50,396.00) scale(0.8750,1)" font-size="11" font-weight="bold" fill="#f0f0f0" >Interruptor</text>
<text transform="translate(660.50,408.50) scale(0.8750,1)" font-size="11" font-weight="bold" fill="#f0f0f0" >Luz de Freio</text>
<rect x="607.30" y="391.50" width="12.20" height="11.00" fill="#00acef" stroke="rgba(0,0,0,0.2)" stroke-width="0.8"/>
<text transform="translate(608.30,401.20) scale(0.7600,1)" font-size="11.5" font-weight="bold" fill="#f0f0f0" >04</text>
<rect x="611.20" y="423.40" width="120.80" height="96.60" fill="#50575d" />
<rect x="611.20" y="527.00" width="120.80" height="48.60" fill="#50575d" />
<rect x="605.50" y="429.70" width="8.00" height="11.20" fill="#50575d" />
<text transform="translate(606.00,439.70) scale(0.7836,1)" font-size="12.5" font-weight="bold" fill="#f0f0f0" >SC20</text>
<rect x="605.50" y="453.40" width="8.00" height="11.20" fill="#50575d" />
<text transform="translate(606.00,463.40) scale(0.7836,1)" font-size="12.5" font-weight="bold" fill="#f0f0f0" >SC42</text>
<rect x="605.50" y="476.70" width="8.00" height="11.20" fill="#50575d" />
<text transform="translate(606.00,486.70) scale(0.7414,1)" font-size="12.5" font-weight="bold" fill="#f0f0f0" >14A</text>
<rect x="605.50" y="499.90" width="8.00" height="11.20" fill="#50575d" />
<rect x="605.50" y="533.70" width="8.00" height="11.20" fill="#50575d" />
<text transform="translate(606.00,543.70) scale(0.8286,1)" font-size="12.5" font-weight="bold" fill="#f0f0f0" >02A</text>
<rect x="605.50" y="556.40" width="8.00" height="11.20" fill="#50575d" />
<path d="M631 435.3 H726 V505.5 H613.5 M631 459 H726 M624.5 482.3 H726" fill="none" stroke="#d0d0d0" stroke-width="1"/>
<circle cx="726" cy="459" r="1.8" fill="#e0e0e0"/><circle cx="726" cy="482.3" r="1.8" fill="#e0e0e0"/>
<path d="M625.5 539.3 H717.4 V562 H613.5" fill="none" stroke="#d0d0d0" stroke-width="1"/>
<rect x="652.50" y="431.20" width="45.00" height="11.60" fill="#e8232f" />
<text transform="translate(654.50,440.50) scale(0.7844,1)" font-size="9.5" font-weight="bold" fill="#ffffff" >F SC20 20A</text>
<rect x="651.50" y="454.60" width="46.00" height="11.60" fill="#e8232f" />
<text transform="translate(653.50,463.90) scale(0.8035,1)" font-size="9.5" font-weight="bold" fill="#ffffff" >F SC42 42A</text>
<rect x="651.50" y="477.90" width="46.00" height="11.60" fill="#e8232f" />
<text transform="translate(653.50,487.20) scale(0.8035,1)" font-size="9.5" font-weight="bold" fill="#ffffff" >F SC14 30A</text>
<rect x="642.50" y="534.20" width="44.00" height="11.60" fill="#e8232f" />
<text transform="translate(644.50,543.50) scale(0.7891,1)" font-size="9.5" font-weight="bold" fill="#ffffff" >F S123 60A</text>
<text transform="translate(669.20,517.30) scale(0.8779,1)" font-size="11" font-weight="bold" fill="#eeeeee" >PDC Externa</text>
<text transform="translate(673.00,573.00) scale(0.9102,1)" font-size="11" font-weight="bold" fill="#eeeeee" >PDC Interna</text>
<path d="M594.00 506.00 L610.00 506.00" fill="none" stroke="#151515" stroke-width="2.2" stroke-linejoin="miter" stroke-linecap="butt"/>
<circle cx="581.5" cy="506" r="12" fill="#f7e21b"/>
<text transform="translate(573.10,510.00) scale(0.9000,1)" font-size="11" font-weight="bold" fill="#222" >+15</text>
<path d="M594.00 562.00 L610.00 562.00" fill="none" stroke="#151515" stroke-width="2.2" stroke-linejoin="miter" stroke-linecap="butt"/>
<circle cx="581.5" cy="562" r="12" fill="#f7e21b"/>
<text transform="translate(573.10,566.00) scale(0.9000,1)" font-size="11" font-weight="bold" fill="#222" >+15</text>
<rect x="125" y="87.6" width="27" height="15.7" fill="#45494d" stroke="#7d8185" stroke-width="1"/>
<path d="M127.6 90.8 H149.6 L148.2 98.6 H129 Z" fill="#e2e2e2"/><path d="M129.6 92.6 H147.6 L146.8 96.8 H130.4 Z" fill="#6a6e72"/><rect x="129.5" y="99.4" width="18" height="1.2" fill="#d6d6d6"/>
<rect x="108.6" y="229.6" width="18.8" height="21.6" fill="#f5f5f5" stroke="#30363b" stroke-width="1.1"/>
<path d="M109.5 250.2 L114 246" stroke="#222" stroke-width="1" stroke-dasharray="1 0.8"/>
<path d="M113.2 245.2 L120.2 237.6 L123.2 240.2 L116 247.4 Z" fill="#bdbdbd" stroke="#333" stroke-width="0.8" stroke-dasharray="1.2 0.6"/>
<path d="M119.6 238.2 L122.6 233.2 L125.8 232.6 L126.2 236 L122.8 240.4 Z" fill="#d8d8d8" stroke="#222" stroke-width="0.9"/>
<path d="M120 232.2 H123.4 M120.6 231.2 L121.4 236" stroke="#222" stroke-width="0.9"/>
<rect x="96.00" y="420.00" width="35.50" height="20.20" fill="#f8fafa" />
<path d="M96 430.3 H131.5" stroke="#1d2733" stroke-width="1.7"/><circle cx="113.5" cy="430.3" r="9" fill="none" stroke="#2a3540" stroke-width="0.9" stroke-dasharray="1.6 0.8"/><path d="M110 424.3 L119.8 430.3 L110 436.3 Z" fill="#1d2733"/><path d="M120 424.5 V436" stroke="#2a3540" stroke-width="0.8"/>
<path d="M114 424.3 L122.5 422.2 M120.3 426 L127.4 424" stroke="#1d3040" stroke-width="1.1"/><path d="M121 420.6 L124 422 L121.6 423.8 Z M126 422.4 L129 423.8 L126.6 425.6 Z" fill="#1d3040"/>
<rect x="110.6" y="592.6" width="39.8" height="37" fill="#fafafa" stroke="#2e2e2e" stroke-width="1.3"/>
<path d="M132.5 594.3 Q121 597 117.2 603.5 Q115 607.5 115.3 614.8" fill="none" stroke="#1e1e1e" stroke-width="2"/>
<path d="M144.5 594.3 Q133 597.5 127.6 604 Q125.6 608 125.8 614.8" fill="none" stroke="#1e1e1e" stroke-width="2"/>
<path d="M134 594 L149.6 593.3 L149.6 595.6 Z" fill="#333"/>
<rect x="113.8" y="615.2" width="14.8" height="13.6" fill="#d9d9d9" stroke="#1e1e1e" stroke-width="1.3"/>
<rect x="113.8" y="620.2" width="14.8" height="2.4" fill="#2a2a2a"/><rect x="113.8" y="624.4" width="14.8" height="1.4" fill="#8a8a8a"/>
<path d="M135 628.5 Q138 613 147.2 602.5 M137.2 628.5 Q140.2 614 148.6 604" fill="none" stroke="#3a3a3a" stroke-width="0.75" stroke-dasharray="1.4 0.7"/>
</svg>
</body></html>
